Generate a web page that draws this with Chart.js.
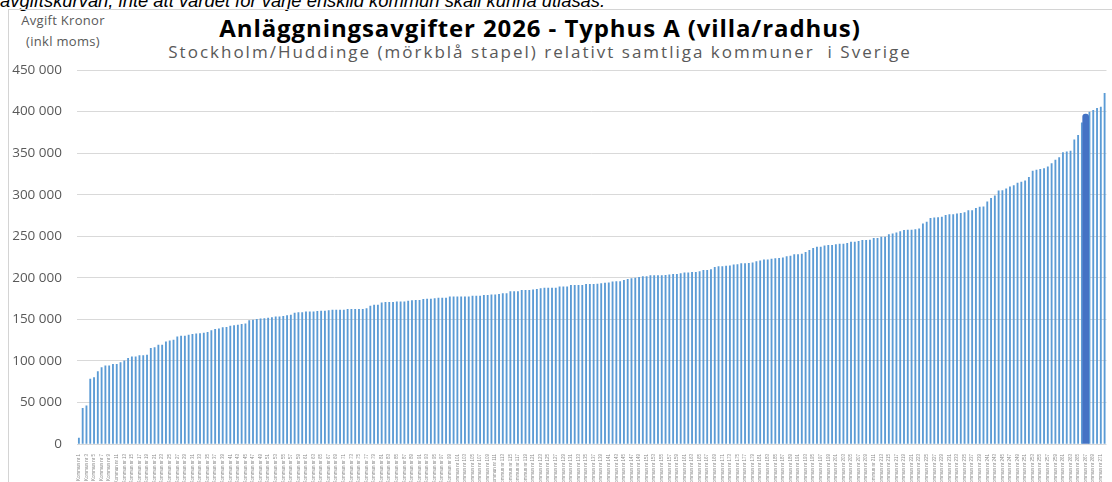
<!DOCTYPE html>
<html lang="sv">
<head>
<meta charset="utf-8">
<script src="https://cdn.jsdelivr.net/npm/chart.js@4.4.1/dist/chart.umd.min.js"></script>
<style>
  html, body { margin: 0; padding: 0; background: #fff; overflow: hidden; }
  #wrap { position: relative; width: 1112px; height: 482px; overflow: hidden; }
  #chart { position: absolute; left: 0; top: 0; }
  .note { position: absolute; left: 0; top: -8px; font: italic 18.4px "Liberation Sans", Arial, sans-serif; line-height: 18px; white-space: nowrap; color: #000; }
  .frame { position: absolute; left: 8px; top: 9px; right: -2px; bottom: -2px; border-left: 1px solid #d4d4d4; border-top: 1px solid #d4d4d4; }
  .title { position: absolute; left: 0; width: 1080px; text-align: center; top: 11px; font: bold 24px "Open Sans", sans-serif; letter-spacing: 0.9px; color: #000; white-space: nowrap; }
  .subtitle { position: absolute; left: 0; width: 1080px; text-align: center; top: 40px; font: 17px "Open Sans", sans-serif; letter-spacing: 2px; color: #595959; white-space: nowrap; }
  .unit { position: absolute; left: 12px; width: 102px; text-align: center; top: 10px; font: 13px "Open Sans", sans-serif; letter-spacing: 0.3px; line-height: 21px; color: #595959; }
</style>
</head>
<body>
<div id="wrap">
  <div class="note">avgiftskurvan, inte att värdet för varje enskild kommun skall kunna utläsas.</div>
  <div class="frame"></div>
  <div class="title">Anläggningsavgifter 2026 - Typhus A (villa/radhus)</div>
  <div class="subtitle">Stockholm/Huddinge (mörkblå stapel) relativt samtliga kommuner&nbsp; i Sverige</div>
  <div class="unit">Avgift Kronor<br>(inkl moms)</div>
  <canvas id="chart" width="1112" height="482"></canvas>
</div>
<script>
// avgifter (kr inkl moms), sorterade stigande
const avgifter1 = [
  7000, 43000, 46000, 78000, 80000, 87000, 92000, 94000, 94000, 96000,
  96000, 98000, 100000, 103000, 105000, 105000, 106500, 106500, 107000, 115000,
  116000, 119000, 119000, 123000, 124000, 125000, 129000, 130000, 130000, 131000,
  132000, 132500, 133000, 133500, 134500, 136500, 138000, 138500, 140000, 140500,
  142000, 142500, 143000, 144000, 144500, 148500, 149000
]
const avgifter2 = [
  150000, 150500, 151000, 151500, 152000, 153000, 153000, 153500, 154500, 155000,
  157500, 158000, 158000, 159000, 159000, 159000, 159500, 160000, 160000, 160500,
  161000, 161000, 161000, 161000, 162000, 162000, 162000, 162000, 162000, 163000,
  166000, 167000, 167000, 170000, 170500, 170500, 170500, 171000, 171000, 171000,
  172000, 172500, 173000, 173000, 174000, 174500
]
const avgifter3 = [
  174500, 175000, 175500, 175500, 175500, 177000, 177000, 177000, 177000, 177000,
  177000, 178000, 178000, 178000, 179000, 179000, 179500, 179500, 180000, 181000,
  181000, 183500, 183500, 183500, 185000, 185000, 185000, 185500, 186000, 187000,
  187500, 187500, 187500, 187500, 189000, 189000, 189000, 191000, 191000, 191000,
  191000, 192000, 192000, 192000, 192500, 193000
]
const avgifter4 = [
  193500, 194000, 195000, 195500, 195500, 197000, 198000, 199000, 199500, 200500,
  201500, 201500, 202500, 202500, 202500, 202500, 203000, 203500, 204000, 204000,
  205000, 206000, 206000, 206500, 206500, 207500, 209000, 209000, 210000, 212500,
  213500, 213500, 214000, 214500, 215500, 216000, 217000, 217000, 217500, 218000,
  219500, 220500, 221500, 221500, 222500, 223000, 223500
]
const avgifter5 = [
  224000, 225500, 226000, 228000, 228000, 228500, 230500, 233000, 235500, 237000,
  237000, 238500, 239000, 239000, 240000, 240500, 240500, 241500, 243000, 243000,
  244000, 245000, 245000, 245500, 247500, 247500, 249000, 249000, 252000, 253000,
  254000, 255500, 257000, 257500, 257500, 258000, 259000, 265000, 267000, 271500,
  272000, 272500, 273000, 275000, 276000, 276000
]
const avgifter6 = [
  277000, 277500, 278500, 281000, 281000, 283500, 285000, 285500, 291500, 295500,
  298500, 304500, 305000, 307000, 309500, 311000, 314000, 315000, 316500, 321000,
  328500, 329500, 330500, 331500, 333500, 337500, 341500, 344500, 350500, 351500,
  352500, 366000, 371500, 386500,
  397000, // Huddinge
  399500, 401500, 404000, 405500, 422000
]
const avgifter = [...avgifter1, ...avgifter2, ...avgifter3, ...avgifter4, ...avgifter5, ...avgifter6]
const huddingeIndex = 266

// kommunnamnen går inte att läsa i bilden
const kommuner = avgifter.map((v, i) => 'Kommun nr ' + (i + 1))

const yTicks = [0, 50000, 100000, 150000, 200000, 250000, 300000, 350000, 400000, 450000]

const fmt = v => v === 0 ? '0' : String(v).replace(/\B(?=(\d{3})+(?!\d))/g, ' ')

new Chart(document.getElementById('chart'), {
  type: 'bar',
  data: {
    labels: kommuner,
    datasets: [
      {
        label: 'Stockholm/Huddinge',
        data: avgifter.map((v, i) => i === huddingeIndex ? v : null),
        backgroundColor: '#4472C4',
        barThickness: 6,
        borderRadius: { topLeft: 3, topRight: 3 },
        borderSkipped: 'bottom',
        grouped: false
      },
      {
        label: 'Anläggningsavgift',
        data: avgifter.map((v, i) => i === huddingeIndex ? null : v),
        backgroundColor: '#5B9BD5',
        barThickness: 1.2,
        grouped: false
      }
    ]
  },
  options: {
    responsive: false,
    animation: false,
    layout: { padding: { top: 70, right: 1, left: 0, bottom: 0 } },
    plugins: {
      legend: { display: false },
      tooltip: { enabled: false }
    },
    scales: {
      x: {
        grid: { display: false },
        border: { display: false },
        ticks: {
          color: '#8c8c8c',
          font: { family: 'Liberation Sans', size: 4.5 },
          minRotation: 90,
          maxRotation: 90,
          autoSkip: false,
          padding: 2,
          callback: (v, i) => i % 2 === 0 ? kommuner[i] : ''
        },
        afterFit: s => { s.height = 38 }
      },
      y: {
        min: 0,
        max: yTicks[yTicks.length - 1],
        afterBuildTicks: s => { s.ticks = yTicks.map(v => ({ value: v })) },
        ticks: {
          color: '#595959',
          font: { family: 'Open Sans', size: 13.5 },
          padding: 15,
          callback: v => fmt(v)
        },
        grid: { color: '#d9d9d9', drawTicks: false },
        border: { display: false },
        afterFit: s => { s.width = 77 }
      }
    }
  }
})
</script>
</body>
</html>
